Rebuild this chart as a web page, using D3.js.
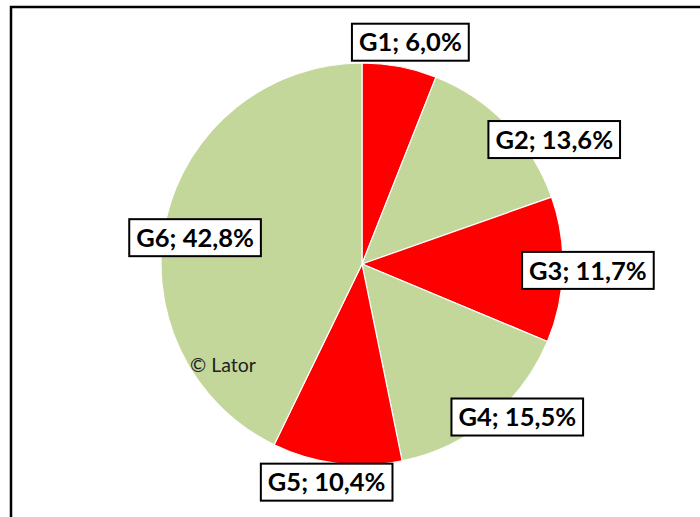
<!DOCTYPE html>
<html>
<head>
<meta charset="utf-8">
<title>Pie G1-G6</title>
<script src="https://d3js.org/d3.v7.min.js"></script>
<style>
  body { margin: 0; background: #fff; }
  .lbl text { font-family: Lato, "Open Sans", sans-serif; font-weight: bold; font-size: 25.5px; fill: #000; }
  .lbl rect { fill: #fff; stroke: #000; stroke-width: 2; }
  .copy { font-family: Lato, "Open Sans", sans-serif; font-size: 19.5px; fill: #222; }
</style>
</head>
<body>
<div id="chart"></div>
<script>
// values (percent)
var categories = ["G1", "G2", "G3", "G4", "G5", "G6"];
var values = [6.0, 13.6, 11.7, 15.5, 10.4, 42.8];
var colors = ["#ff0000", "#c4d79b", "#ff0000", "#c4d79b", "#ff0000", "#c4d79b"];

// where each label sits: radius and angle nudge (deg) from slice middle
var labelRadius = [227, 229, 226, 218, 221, 169];
var labelNudge = [1.5, 11, 0, -6, 2, -4];

var width = 700, height = 517;
var cx = 362, cy = 264, radius = 201;

var svg = d3.select("#chart").append("svg")
    .attr("width", width)
    .attr("height", height);

// chart frame (only top and left edges fall inside the window)
svg.append("rect")
    .attr("x", 11).attr("y", 7)
    .attr("width", 720).attr("height", 540)
    .attr("fill", "none")
    .attr("stroke", "#000")
    .attr("stroke-width", 2.5);

var data = categories.map(function(c, i) { return { name: c, value: values[i], i: i }; });

var pie = d3.pie().sort(null).value(function(d) { return d.value; });
var arc = d3.arc().innerRadius(0).outerRadius(radius);

var g = svg.append("g").attr("transform", "translate(" + cx + "," + cy + ")");
var arcs = pie(data);

g.selectAll("path.slice")
    .data(arcs)
    .enter().append("path")
    .attr("class", "slice")
    .attr("d", arc)
    .attr("fill", function(d) { return colors[d.data.i]; })
    .attr("stroke", "#fff")
    .attr("stroke-width", 1.2);

svg.append("text")
    .attr("class", "copy")
    .attr("x", 190).attr("y", 372)
    .text("\u00a9 Lator");

var fmt = function(v) { return v.toFixed(1).replace(".", ","); };

var labels = g.selectAll("g.lbl")
    .data(arcs)
    .enter().append("g")
    .attr("class", "lbl")
    .attr("transform", function(d) {
        var i = d.data.i;
        var a = (d.startAngle + d.endAngle) / 2 + labelNudge[i] * Math.PI / 180;
        var r = labelRadius[i];
        return "translate(" + (r * Math.sin(a)) + "," + (-r * Math.cos(a)) + ")";
    });

labels.append("rect");
labels.append("text")
    .attr("text-anchor", "middle")
    .attr("dy", "0.36em")
    .text(function(d) { return d.data.name + "; " + fmt(d.data.value) + "%"; });

labels.each(function() {
    var grp = d3.select(this);
    var bb = grp.select("text").node().getBBox();
    var padX = 7, h = 37;
    grp.select("rect")
        .attr("x", bb.x - padX)
        .attr("y", -h / 2)
        .attr("width", bb.width + 2 * padX)
        .attr("height", h);
});
</script>
</body>
</html>
